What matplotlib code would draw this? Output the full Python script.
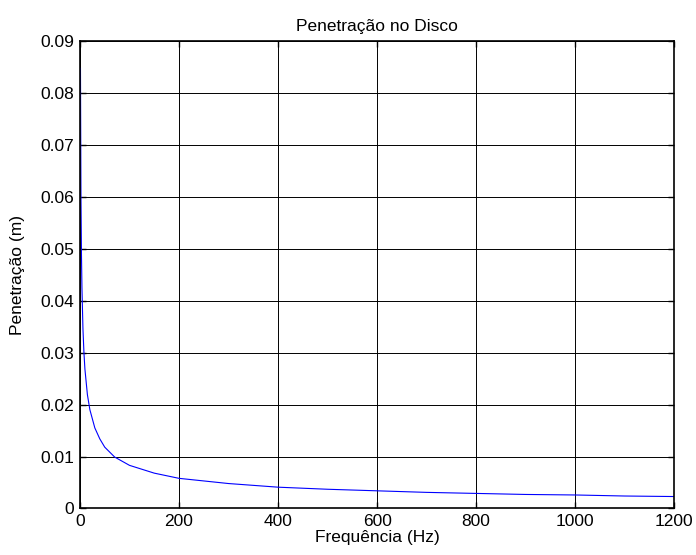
import matplotlib
matplotlib.use("Agg")
import matplotlib.pyplot as plt

# Values
freq_hz = [1, 2, 3, 4, 6, 8, 10, 15, 20, 30, 40, 50, 70, 100, 150, 200,
           300, 400, 500, 600, 700, 800, 900, 1000, 1100, 1200]
penetration_m = [0.0847, 0.0600, 0.0490, 0.0424, 0.0346, 0.0300, 0.0268,
                 0.0219, 0.0190, 0.0155, 0.0134, 0.0118, 0.0099, 0.0083,
                 0.0068, 0.0058, 0.0048, 0.0041, 0.0037, 0.0034, 0.0031,
                 0.0029, 0.0027, 0.0026, 0.0024, 0.0023]

x_ticks = [0, 200, 400, 600, 800, 1000, 1200]
y_ticks = [0, 0.01, 0.02, 0.03, 0.04, 0.05, 0.06, 0.07, 0.08, 0.09]
y_tick_labels = ["0", "0.01", "0.02", "0.03", "0.04", "0.05", "0.06", "0.07", "0.08", "0.09"]

title = "Penetração no Disco"
xlabel = "Frequência (Hz)"
ylabel = "Penetração (m)"

plt.rcParams['font.family'] = ['Liberation Sans', 'DejaVu Sans']
fs = 12.5

fig = plt.figure(figsize=(6.96, 5.55), dpi=100)
ax = fig.add_axes([0.1149, 0.0838, 0.8539, 0.8429])

ax.plot(freq_hz, penetration_m, color='#0000ff', linewidth=0.8)

ax.set_xlim(0, 1200)
ax.set_ylim(0, 0.09)
ax.set_xticks(x_ticks)
ax.set_yticks(y_ticks)
ax.set_yticklabels(y_tick_labels)
ax.tick_params(direction='in', length=4, width=1, top=True, right=True,
               labelsize=fs, colors='black', pad=4)
ax.grid(True, color='black', linewidth=0.7, linestyle='-')
ax.set_axisbelow(True)
for s in ax.spines.values():
    s.set_linewidth(1.2)
    s.set_color('black')

ax.set_title(title, fontsize=fs, pad=7)
ax.set_xlabel(xlabel, fontsize=fs, labelpad=1)
ax.set_ylabel(ylabel, fontsize=fs, labelpad=11)

fig.savefig("out.png", dpi=100)
